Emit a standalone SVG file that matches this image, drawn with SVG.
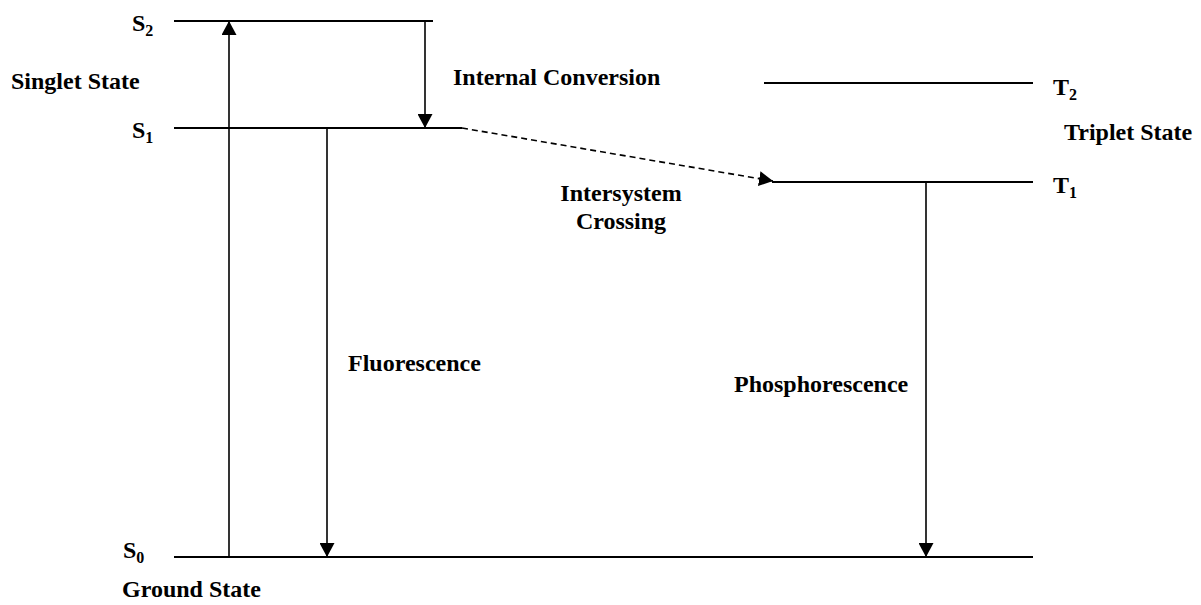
<svg xmlns="http://www.w3.org/2000/svg" width="1201" height="605" viewBox="0 0 1201 605">
<style>
.lvl{stroke:#000;stroke-width:2;fill:none}
.arr{stroke:#000;stroke-width:1.6;fill:none;marker-end:url(#ah)}
.dash{stroke:#000;stroke-width:1.6;fill:none;stroke-dasharray:6 4;marker-end:url(#ah)}
text{font-family:"Liberation Serif","Times New Roman",serif;font-weight:bold;font-size:24px;fill:#000}
.sub{font-size:16px}
</style>
<defs>
<marker id="ah" markerUnits="userSpaceOnUse" markerWidth="14" markerHeight="15" refX="14" refY="7.5" orient="auto" viewBox="0 0 14 15">
<path d="M0,0 L14,7.5 L0,15 z" fill="#000"/>
</marker>
</defs>
<rect width="1201" height="605" fill="#fff"/>
<g id="S2"><line class="lvl" x1="174" y1="21" x2="433" y2="21"/><text x="132" y="31">S<tspan class="sub" dy="5">2</tspan></text></g>
<g id="S1"><line class="lvl" x1="174" y1="128" x2="462" y2="128"/><text x="132" y="138">S<tspan class="sub" dy="5">1</tspan></text></g>
<g id="S0"><line class="lvl" x1="174" y1="557" x2="1033" y2="557"/><text x="123" y="558">S<tspan class="sub" dy="5">0</tspan></text></g>
<g id="T2"><line class="lvl" x1="764" y1="83" x2="1033" y2="83"/><text x="1053" y="95">T<tspan class="sub" dy="5">2</tspan></text></g>
<g id="T1"><line class="lvl" x1="772" y1="182" x2="1033" y2="182"/><text x="1053" y="193">T<tspan class="sub" dy="5">1</tspan></text></g>
<g id="labels">
<text x="11" y="89">Singlet State</text>
<text x="1064" y="140">Triplet State</text>
<text x="122" y="597">Ground State</text>
<text x="453" y="85">Internal Conversion</text>
<text x="621" y="201" text-anchor="middle">Intersystem</text>
<text x="621" y="229" text-anchor="middle">Crossing</text>
<text x="348" y="371">Fluorescence</text>
<text x="734" y="392">Phosphorescence</text>
</g>
<g id="connectors">
<line class="arr" x1="229" y1="557" x2="229" y2="21"/>
<line class="arr" x1="425" y1="21" x2="425" y2="128"/>
<line class="arr" x1="327" y1="128" x2="327" y2="557"/>
<line class="arr" x1="926" y1="182" x2="926" y2="557"/>
<line class="dash" x1="462" y1="128" x2="773" y2="181"/>
</g>
</svg>
